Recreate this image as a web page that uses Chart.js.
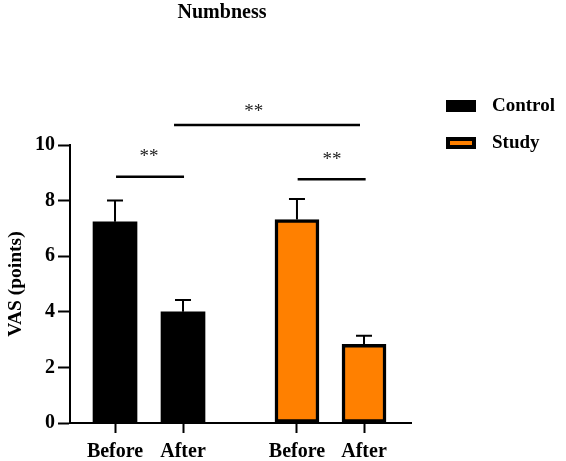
<!DOCTYPE html>
<html><head><meta charset="utf-8">
<script src="https://cdn.jsdelivr.net/npm/chart.js@4/dist/chart.umd.min.js"></script>
<style>html,body{margin:0;padding:0;background:#fff;overflow:hidden}</style>
</head><body>
<canvas id="c" width="566" height="461"></canvas>
<script>
// ---- data ----
const seriesNames = ["Control", "Study"];
const xLabels = ["Before", "After", "Before", "After"];
const controlMean = [7.24, 4.0];
const controlSD = [0.76, 0.42];
const studyMean = [7.32, 2.83];
const studySD = [0.74, 0.31];
const yTicks = [0, 2, 4, 6, 8, 10];
const chartTitle = "Numbness";
const yTitle = "VAS (points)";
const sigLabel = "**";

// ---- layout (not data) ----
const xPos = [1, 2, 3.676, 4.662];
const brackets = [
  { x1: 1.015, x2: 2.015, y: 8.86, sx: 1.5, sy: 9.55 },
  { x1: 3.686, x2: 4.686, y: 8.77, sx: 4.19, sy: 9.47 },
  { x1: 1.868, x2: 4.603, y: 10.72, sx: 3.04, sy: 11.2 }
];
const FONT = '"Liberation Serif", "Times New Roman", serif';
const ORANGE = '#FF8000';

const controlPts = controlMean.map((v, i) => ({ x: xPos[i], y: v }));
const studyPts = studyMean.map((v, i) => ({ x: xPos[i + 2], y: v }));
const sds = [controlSD, studySD];

const extras = {
  id: 'extras',
  afterDatasetsDraw(chart) {
    const ctx = chart.ctx;
    const xs = chart.scales.x, ys = chart.scales.y;
    // error bars
    ctx.save();
    ctx.strokeStyle = '#000';
    ctx.lineWidth = 2;
    chart.data.datasets.forEach((ds, di) => {
      ds.data.forEach((p, i) => {
        const sd = sds[di][i];
        const x = xs.getPixelForValue(p.x);
        const y0 = ys.getPixelForValue(p.y);
        const y1 = ys.getPixelForValue(p.y + sd);
        ctx.beginPath();
        ctx.moveTo(x, y0); ctx.lineTo(x, y1);
        ctx.moveTo(x - 8, y1); ctx.lineTo(x + 8, y1);
        ctx.stroke();
      });
    });
    // significance brackets
    ctx.lineWidth = 2.5;
    ctx.fillStyle = '#222';
    ctx.font = '19px ' + FONT;
    ctx.textAlign = 'center';
    ctx.textBaseline = 'middle';
    brackets.forEach(b => {
      const y = ys.getPixelForValue(b.y);
      ctx.beginPath();
      ctx.moveTo(xs.getPixelForValue(b.x1), y);
      ctx.lineTo(xs.getPixelForValue(b.x2), y);
      ctx.stroke();
      ctx.fillText(sigLabel, xs.getPixelForValue(b.sx), ys.getPixelForValue(b.sy));
    });
    // title
    ctx.fillStyle = '#000';
    ctx.font = 'bold 20px ' + FONT;
    ctx.fillText(chartTitle, 222, 13);
    // legend
    ctx.textAlign = 'left';
    ctx.font = 'bold 19px ' + FONT;
    chart.data.datasets.forEach((ds, i) => {
      const top = 100 + i * 37;
      ctx.fillStyle = '#000';
      ctx.fillRect(446, top, 30, 12);
      if (ds.backgroundColor !== '#000') {
        ctx.fillStyle = ds.backgroundColor;
        ctx.fillRect(450, top + 4, 22, 4);
      }
      ctx.fillStyle = '#000';
      ctx.fillText(ds.label, 492, top + 6);
    });
    ctx.restore();
  }
};

new Chart(document.getElementById('c'), {
  type: 'bar',
  data: {
    datasets: [
      { label: seriesNames[0], data: controlPts, backgroundColor: '#000', borderColor: '#000', borderWidth: 0, barThickness: 44, grouped: false },
      { label: seriesNames[1], data: studyPts, backgroundColor: ORANGE, borderColor: '#000', borderWidth: 3.5, borderSkipped: false, barThickness: 44, grouped: false }
    ]
  },
  options: {
    responsive: false,
    animation: false,
    devicePixelRatio: 1,
    layout: { padding: { top: 145, right: 155, left: 0, bottom: 0 } },
    plugins: { legend: { display: false }, tooltip: { enabled: false }, title: { display: false } },
    scales: {
      x: {
        type: 'linear',
        min: 0.338, max: 5.353,
        offset: false,
        afterFit(s) { s.height = 38; },
        afterBuildTicks(s) { s.ticks = xPos.map(v => ({ value: v })); },
        grid: { offset: false, drawOnChartArea: false, drawTicks: true, tickLength: 10, tickWidth: 2, tickColor: '#000' },
        border: { display: true, color: '#000', width: 2 },
        ticks: {
          autoSkip: false, maxRotation: 0, padding: 7, color: '#000',
          font: { family: FONT, size: 20, weight: 'bold' },
          callback: (v, i) => xLabels[i]
        }
      },
      y: {
        min: 0, max: 10,
        afterFit(s) { s.width = 70; },
        afterBuildTicks(s) { s.ticks = yTicks.map(v => ({ value: v })); },
        grid: { drawOnChartArea: false, drawTicks: true, tickLength: 12, tickWidth: 2, tickColor: '#000' },
        border: { display: true, color: '#000', width: 2 },
        ticks: { padding: 3, color: '#000', font: { family: FONT, size: 20, weight: 'bold' } },
        title: { display: true, text: yTitle, color: '#000', padding: { top: 4, bottom: 0 }, font: { family: FONT, size: 19.5, weight: 'bold' } }
      }
    }
  },
  plugins: [extras]
});
</script>
</body></html>
